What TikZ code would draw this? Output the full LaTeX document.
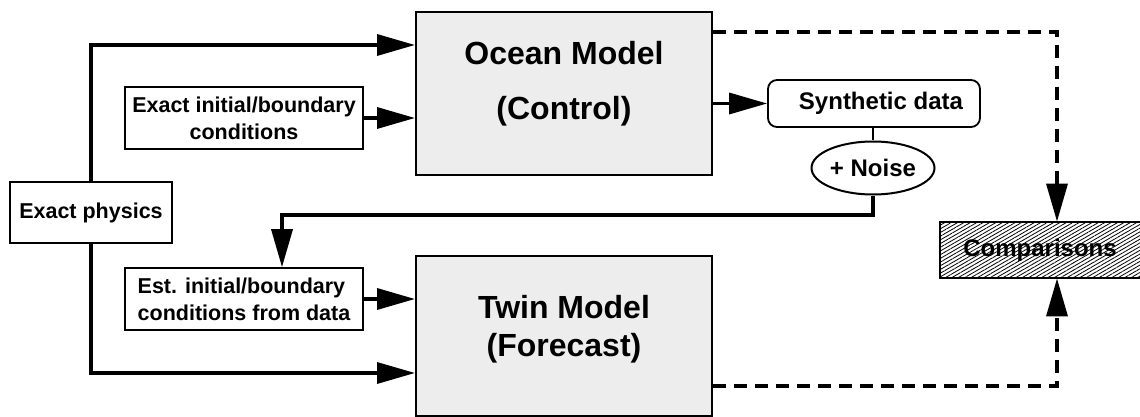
\documentclass[tikz,border=0pt]{standalone}
\usepackage{fontspec}
\setmainfont{Liberation Sans}
\usetikzlibrary{arrows.meta,shapes.geometric,patterns.meta}
\tikzset{
  bigbox/.style={draw=black, line width=2pt, fill=black!7, minimum width=296pt, inner sep=0pt},
  bigtext/.style={align=center, font=\fontsize{32}{38}\selectfont\bfseries, inner sep=0pt},
  smallbox/.style={draw=black, line width=1.6pt, fill=white, minimum width=238pt, minimum height=62pt, inner sep=4pt, font=\fontsize{21.5}{27}\selectfont\bfseries},
  midfont/.style={font=\fontsize{24}{28}\selectfont\bfseries},
  conn/.style={line width=3.4pt},
  arr/.style={conn, -{Triangle[length=38pt,width=21pt]}},
  darr/.style={line width=3.4pt, dash pattern=on 13pt off 8pt, -{Triangle[length=38pt,width=21pt]}},
}
\begin{document}
\begin{tikzpicture}[x=1pt,y=-1pt]
\useasboundingbox (0,0) rectangle (1140,417);
% main model boxes
\node[bigbox, minimum height=163pt] (ocean) at (564,93.5) {};
\node[bigtext] (oceanT) at (564,84) {Ocean Model\\[17pt](Control)};
\node[bigbox, minimum height=160pt] (twin) at (564,336) {};
\node[bigtext] (twinT) at (564,329) {Twin Model\\(Forecast)};
% inputs
\node[smallbox, minimum width=162pt, minimum height=61pt] (phys) at (91,212.5) {Exact physics};
\node[smallbox, align=center] (init) at (244,118) {Exact initial/boundary\\conditions};
\node[smallbox, align=left] (est) at (244,299) {Est. initial/boundary\\conditions from data};
% data path
\node[draw=black, line width=1.8pt, rounded corners=9pt, minimum width=212pt, minimum height=47pt, inner sep=0pt, midfont] (synth) at (874,103.5) {\hspace*{14pt}Synthetic data};
\node[draw=black, line width=2pt, ellipse, minimum width=123pt, minimum height=53pt, inner sep=0pt, midfont] (noise) at (873,168) {+ Noise};
\node[draw=black, line width=2.6pt, minimum width=204pt, minimum height=56pt, inner sep=0pt, pattern={Lines[angle=30,distance=3.2pt,line width=0.8pt]}] (comp) at (1042,250) {};
\node[midfont, inner sep=0pt] (compT) at (1040,250) {Comparisons};
% connectors
\coordinate (topy) at (0,45);
\coordinate (boty) at (0,373);
\coordinate (fb) at (282,215);
\coordinate (dx1) at (1057,32);
\coordinate (dx2) at (1057,386);
\draw[arr] (phys.north) |- (ocean.west |- topy);
\draw[arr] (init.east) -- (init.east -| ocean.west);
\draw[arr] (ocean.east |- synth.west) -- (synth.west);
\draw[line width=2pt] (synth.south -| noise.north) -- (noise.north);
\draw[arr] (noise.south) |- (fb) -- (fb |- est.north);
\draw[arr] (phys.south) |- (twin.west |- boty);
\draw[arr] (est.east) -- (est.east -| twin.west);
\draw[darr] (ocean.east |- dx1) -- (dx1) -- (dx1 |- comp.north);
\draw[darr] (twin.east |- dx2) -- (dx2) -- (dx2 |- comp.south);
\end{tikzpicture}
\end{document}
